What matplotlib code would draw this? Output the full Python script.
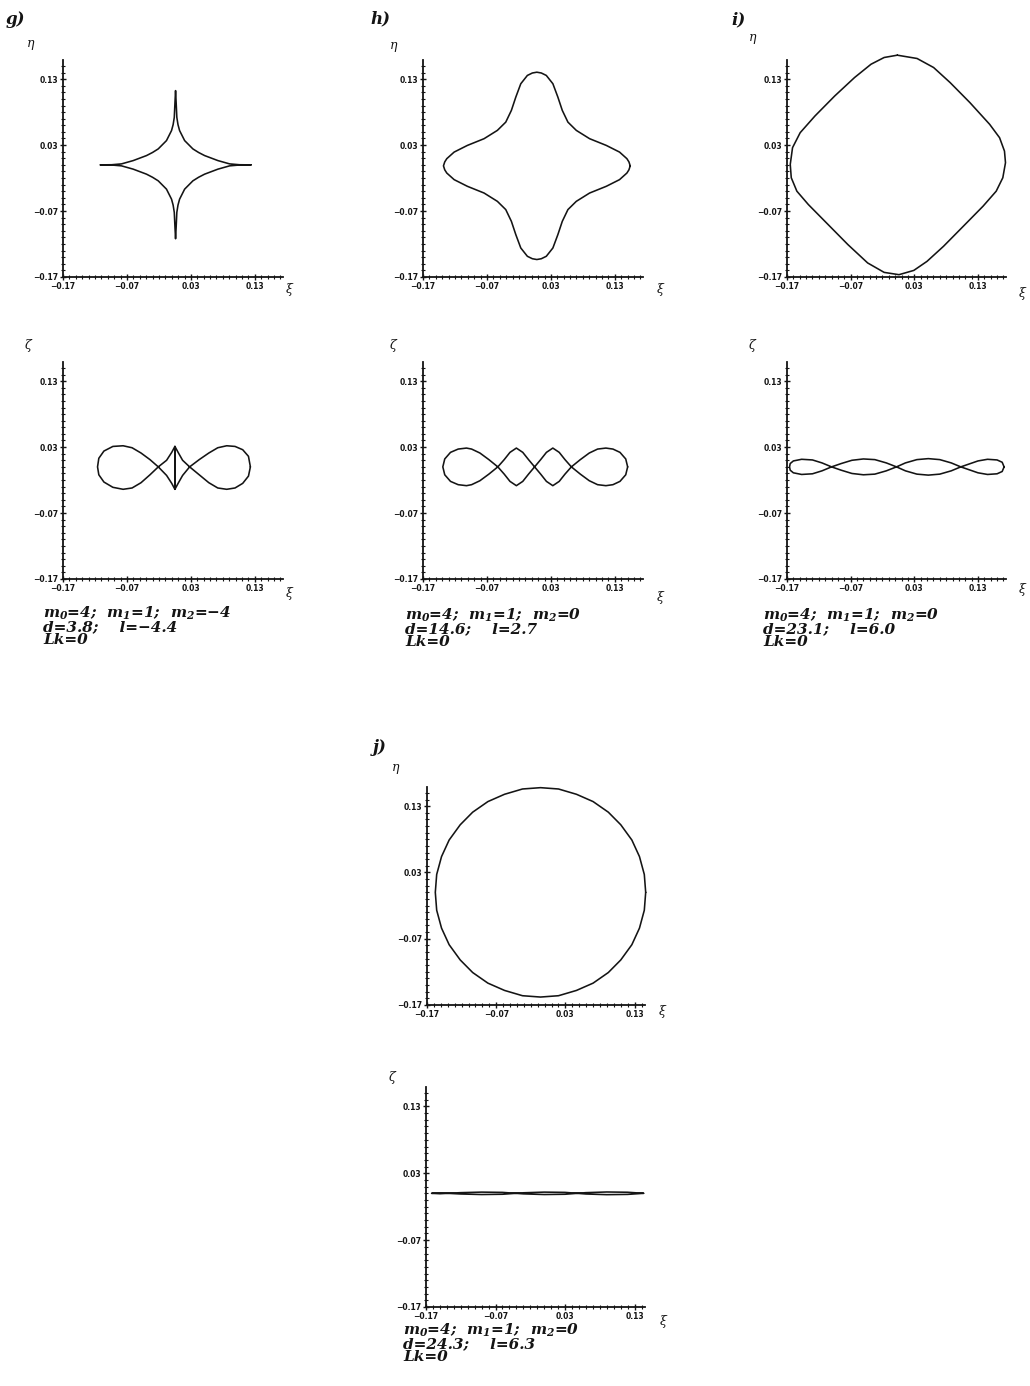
import numpy as np
import matplotlib
matplotlib.use("Agg")
import matplotlib.pyplot as plt
from matplotlib.ticker import MultipleLocator

plt.rcParams["mathtext.fontset"] = "custom"
plt.rcParams["mathtext.it"] = "DejaVu Serif:italic:bold"
plt.rcParams["mathtext.rm"] = "DejaVu Serif:italic:bold"
plt.rcParams["mathtext.bf"] = "DejaVu Serif:italic:bold"

# axis ticks shared by every panel
tick_values = [-0.17, -0.07, 0.03, 0.13]
tick_labels = ["\u22120.17", "\u22120.07", "0.03", "0.13"]

# g) plan view (xi, eta) and side view (xi, zeta)
g_plan = [(0.124, 0.000), (0.106, 0.0002), (0.0905, 0.0015), (0.0722, 0.0065), (0.0514, 0.0141),
          (0.042, 0.0188), (0.0331, 0.0242), (0.0202, 0.0368), (0.0123, 0.052), (0.0098, 0.061),
          (0.008, 0.072), (0.007, 0.093), (0.006, 0.1126),
          (0.005, 0.093), (0.004, 0.072), (0.0022, 0.061), (-0.0003, 0.052), (-0.0082, 0.0368),
          (-0.0211, 0.0242), (-0.030, 0.0188), (-0.0394, 0.0141), (-0.0602, 0.0065), (-0.0785, 0.0015),
          (-0.094, 0.0002), (-0.112, 0.000),
          (-0.094, -0.0002), (-0.0785, -0.0015), (-0.0602, -0.0065), (-0.0394, -0.0141), (-0.030, -0.0188),
          (-0.0211, -0.0242), (-0.0082, -0.0368), (-0.0003, -0.052), (0.0022, -0.061), (0.004, -0.072),
          (0.005, -0.093), (0.006, -0.112),
          (0.007, -0.093), (0.008, -0.072), (0.0098, -0.061), (0.0123, -0.052), (0.0202, -0.0368),
          (0.0331, -0.0242), (0.042, -0.0188), (0.0514, -0.0141), (0.0722, -0.0065), (0.0905, -0.0015),
          (0.106, -0.0002), (0.124, 0.000)]
g_side = [(0.123, 0.000), (0.120, 0.016), (0.111, 0.026), (0.099, 0.031), (0.086, 0.032),
          (0.072, 0.029), (0.058, 0.021), (0.043, 0.011), (0.028, 0.000), (0.017, -0.013),
          (0.010, -0.025), (0.005, -0.034), (0.005, 0.031), (0.000, 0.022), (-0.008, 0.010),
          (-0.021, 0.000), (-0.034, -0.012), (-0.048, -0.024), (-0.062, -0.032), (-0.076, -0.034),
          (-0.092, -0.031), (-0.106, -0.023), (-0.114, -0.012), (-0.116, 0.000), (-0.114, 0.013),
          (-0.106, 0.024), (-0.092, 0.031), (-0.076, 0.032), (-0.062, 0.029), (-0.048, 0.021),
          (-0.034, 0.011), (-0.021, 0.000), (-0.008, -0.013), (0.000, -0.025), (0.005, -0.034),
          (0.005, 0.031), (0.010, 0.022), (0.017, 0.010), (0.028, 0.000), (0.043, -0.012),
          (0.058, -0.024), (0.072, -0.032), (0.086, -0.034), (0.099, -0.032), (0.111, -0.025),
          (0.120, -0.014), (0.123, 0.000)]

# h)
h_plan = [(0.154, -0.0015), (0.152, 0.0045), (0.1488, 0.0094), (0.1373, 0.0194), (0.1166, 0.0295),
          (0.0905, 0.0397), (0.0697, 0.0523), (0.0566, 0.0648), (0.0478, 0.0826), (0.0409, 0.1027),
          (0.0331, 0.123), (0.0228, 0.1356), (0.015, 0.1393), (0.008, 0.1405),
          (0.001, 0.1393), (-0.0068, 0.1356), (-0.0171, 0.123), (-0.0249, 0.1027), (-0.0318, 0.0826),
          (-0.0406, 0.0648), (-0.0537, 0.0523), (-0.0745, 0.0397), (-0.1006, 0.0295), (-0.1213, 0.0194),
          (-0.1328, 0.0094), (-0.136, 0.0045), (-0.138, -0.0015),
          (-0.136, -0.0075), (-0.1328, -0.0124), (-0.1213, -0.0224), (-0.1006, -0.0325), (-0.0745, -0.0427),
          (-0.0537, -0.0553), (-0.0406, -0.0678), (-0.0318, -0.0856), (-0.0249, -0.1057), (-0.0171, -0.126),
          (-0.0068, -0.1386), (0.001, -0.1423), (0.008, -0.1435),
          (0.015, -0.1423), (0.0228, -0.1386), (0.0331, -0.126), (0.0409, -0.1057), (0.0478, -0.0856),
          (0.0566, -0.0678), (0.0697, -0.0553), (0.0905, -0.0427), (0.1166, -0.0325), (0.1373, -0.0224),
          (0.1488, -0.0124), (0.152, -0.0075), (0.154, -0.0015)]
h_side = [(0.150, 0.000), (0.147, 0.012), (0.138, 0.022), (0.127, 0.027), (0.116, 0.0285),
          (0.103, 0.027), (0.090, 0.021), (0.076, 0.011), (0.062, 0.000), (0.052, -0.011),
          (0.043, -0.022), (0.033, -0.0285), (0.023, -0.022), (0.014, -0.011), (0.0045, 0.000),
          (-0.005, 0.011), (-0.014, 0.022), (-0.024, 0.0285), (-0.034, 0.022), (-0.043, 0.011),
          (-0.053, 0.000), (-0.067, -0.011), (-0.081, -0.021), (-0.094, -0.027), (-0.102, -0.0285),
          (-0.115, -0.027), (-0.127, -0.022), (-0.136, -0.012), (-0.139, 0.000), (-0.136, 0.012),
          (-0.127, 0.022), (-0.115, 0.027), (-0.102, 0.0285), (-0.094, 0.027), (-0.081, 0.021),
          (-0.067, 0.011), (-0.053, 0.000), (-0.043, -0.011), (-0.034, -0.022), (-0.024, -0.0285),
          (-0.014, -0.022), (-0.005, -0.011), (0.0045, 0.000), (0.014, 0.011), (0.023, 0.022),
          (0.033, 0.0285), (0.043, 0.022), (0.052, 0.011), (0.062, 0.000), (0.076, -0.011),
          (0.090, -0.021), (0.103, -0.027), (0.116, -0.0285), (0.127, -0.027), (0.138, -0.022),
          (0.147, -0.012), (0.150, 0.000)]

# i)
i_plan = [(0.0033, 0.1663), (0.0343, 0.1613), (0.0603, 0.1476), (0.0862, 0.1248), (0.1173, 0.0944),
          (0.1483, 0.0615), (0.1639, 0.0412), (0.1716, 0.0209), (0.1732, 0.0033), (0.169, -0.0195),
          (0.1586, -0.0399), (0.1379, -0.0627), (0.1069, -0.0931), (0.0758, -0.1235), (0.0499, -0.1463),
          (0.0292, -0.160), (0.0059, -0.1665), (-0.0174, -0.163), (-0.0433, -0.1487), (-0.0743, -0.1209),
          (-0.1054, -0.0905), (-0.1365, -0.0601), (-0.1545, -0.0399), (-0.1633, -0.0195), (-0.1649, 0.0007),
          (-0.1613, 0.0261), (-0.1493, 0.0488), (-0.1261, 0.0741), (-0.095, 0.1045), (-0.0639, 0.1324),
          (-0.038, 0.1526), (-0.0174, 0.1628), (0.0033, 0.1663)]
i_side = [(0.171, 0.000), (0.168, 0.007), (0.160, 0.0105), (0.145, 0.0115), (0.130, 0.009),
          (0.115, 0.004), (0.103, 0.000), (0.088, -0.006), (0.070, -0.011), (0.052, -0.0125),
          (0.034, -0.011), (0.016, -0.006), (0.002, 0.000), (-0.014, 0.006), (-0.032, 0.011),
          (-0.050, 0.012), (-0.068, 0.010), (-0.085, 0.005), (-0.100, 0.000), (-0.115, -0.006),
          (-0.130, -0.0105), (-0.147, -0.0115), (-0.160, -0.009), (-0.165, -0.005), (-0.166, 0.000),
          (-0.165, 0.005), (-0.160, 0.009), (-0.147, 0.0115), (-0.130, 0.0105), (-0.115, 0.006),
          (-0.100, 0.000), (-0.085, -0.005), (-0.068, -0.010), (-0.050, -0.012), (-0.032, -0.011),
          (-0.014, -0.006), (0.002, 0.000), (0.016, 0.006), (0.034, 0.011), (0.052, 0.0125),
          (0.070, 0.011), (0.088, 0.006), (0.103, 0.000), (0.115, -0.004), (0.130, -0.009),
          (0.145, -0.0115), (0.160, -0.0105), (0.168, -0.007), (0.171, 0.000)]

# j)
j_plan = [(0.146, 0.000), (0.144, 0.027), (0.137, 0.054), (0.126, 0.079), (0.110, 0.102),
          (0.092, 0.121), (0.070, 0.137), (0.046, 0.148), (0.020, 0.156), (-0.006, 0.158),
          (-0.032, 0.156), (-0.058, 0.148), (-0.082, 0.137), (-0.104, 0.121), (-0.122, 0.102),
          (-0.138, 0.079), (-0.149, 0.054), (-0.156, 0.027), (-0.158, 0.000), (-0.156, -0.027),
          (-0.149, -0.054), (-0.138, -0.079), (-0.122, -0.102), (-0.104, -0.121), (-0.082, -0.137),
          (-0.058, -0.148), (-0.032, -0.156), (-0.006, -0.158), (0.020, -0.156), (0.046, -0.148),
          (0.070, -0.137), (0.092, -0.121), (0.110, -0.102), (0.126, -0.079), (0.137, -0.054),
          (0.144, -0.027), (0.146, 0.000)]
j_side = [(0.143, 0.000), (0.120, 0.0016), (0.090, 0.0020), (0.060, 0.0010), (0.030, -0.0014),
          (0.000, -0.0018), (-0.030, -0.0008), (-0.060, 0.0014), (-0.090, 0.0018), (-0.120, 0.0010),
          (-0.150, -0.0006), (-0.162, 0.000), (-0.150, 0.0006), (-0.120, -0.0010), (-0.090, -0.0018),
          (-0.060, -0.0014), (-0.030, 0.0008), (0.000, 0.0018), (0.030, 0.0014), (0.060, -0.0010),
          (0.090, -0.0020), (0.120, -0.0016), (0.143, 0.000)]

captions = {
    "g": ["$m_0$=4;  $m_1$=1;  $m_2$=\u22124", "d=3.8;    l=\u22124.4", "Lk=0"],
    "h": ["$m_0$=4;  $m_1$=1;  $m_2$=0", "d=14.6;    l=2.7", "Lk=0"],
    "i": ["$m_0$=4;  $m_1$=1;  $m_2$=0", "d=23.1;    l=6.0", "Lk=0"],
    "j": ["$m_0$=4;  $m_1$=1;  $m_2$=0", "d=24.3;    l=6.3", "Lk=0"],
}

W, H = 1030, 1386
fig = plt.figure(figsize=(W / 100, H / 100), dpi=100)
ink = "#141414"


def add_panel(left, top, right, bottom, xmax, curve):
    ax = fig.add_axes([left / W, 1 - bottom / H, (right - left) / W, (bottom - top) / H])
    ax.set_xlim(-0.17, xmax)
    ax.set_ylim(-0.17, 0.159)
    for side in ("top", "right"):
        ax.spines[side].set_visible(False)
    for side in ("left", "bottom"):
        ax.spines[side].set_linewidth(1.3)
        ax.spines[side].set_color(ink)
    ax.set_xticks(tick_values)
    ax.set_xticklabels(tick_labels)
    ax.set_yticks(tick_values)
    ax.set_yticklabels(tick_labels)
    ax.xaxis.set_minor_locator(MultipleLocator(0.01))
    ax.yaxis.set_minor_locator(MultipleLocator(0.01))
    ax.tick_params(which="major", direction="inout", length=4.5, width=1.0,
                   labelsize=5.5, pad=1.5, color=ink, labelcolor=ink)
    ax.tick_params(which="minor", direction="inout", length=2.5, width=0.8, color=ink)
    for lab in ax.get_xticklabels() + ax.get_yticklabels():
        lab.set_fontweight("bold")
    ax.patch.set_alpha(0)
    xs, ys = np.array(curve).T
    ax.plot(xs, ys, color=ink, lw=1.15, clip_on=False,
            solid_joinstyle="round", solid_capstyle="round")
    return ax


def label(x, y, s, **kw):
    fig.text(x / W, 1 - y / H, s, color=ink, ha="left", va="center", **kw)


greek = dict(family="DejaVu Serif", style="italic", fontsize=9)
letter = dict(family="DejaVu Serif", style="italic", weight="bold", fontsize=12)
cap = dict(family="DejaVu Serif", style="italic", weight="bold", fontsize=11)

# plan view on top, side view below, per panel
add_panel(63, 60, 283, 277, 0.174, g_plan)
add_panel(63, 362, 283, 579, 0.174, g_side)
add_panel(423, 60, 643, 277, 0.174, h_plan)
add_panel(423, 362, 643, 579, 0.174, h_side)
add_panel(787, 60, 1006, 277, 0.174, i_plan)
add_panel(787, 362, 1006, 579, 0.174, i_side)
add_panel(427, 787, 645, 1005, 0.145, j_plan)
add_panel(426, 1087, 645, 1307, 0.145, j_side)

label(6, 20, "g)", **letter)
label(370, 19, "h)", **letter)
label(731, 20, "i)", **letter)
label(373, 748, "j)", **letter)

for x, y, s in [(27, 43, "\u03b7"), (390, 45, "\u03b7"), (749, 38, "\u03b7"), (392, 768, "\u03b7"),
                (25, 345, "\u03b6"), (390, 345, "\u03b6"), (749, 345, "\u03b6"), (389, 1077, "\u03b6"),
                (286, 290, "\u03be"), (657, 289, "\u03be"), (1019, 293, "\u03be"), (659, 1011, "\u03be"),
                (286, 593, "\u03be"), (657, 597, "\u03be"), (1019, 590, "\u03be"), (660, 1322, "\u03be")]:
    label(x, y, s, **greek)

for key, (x0, y0) in {"g": (43, 613), "h": (405, 615), "i": (763, 615), "j": (403, 1330)}.items():
    for k, line in enumerate(captions[key]):
        label(x0, y0 + 13.7 * k, line, **cap)

fig.savefig("out.png", dpi=100)
